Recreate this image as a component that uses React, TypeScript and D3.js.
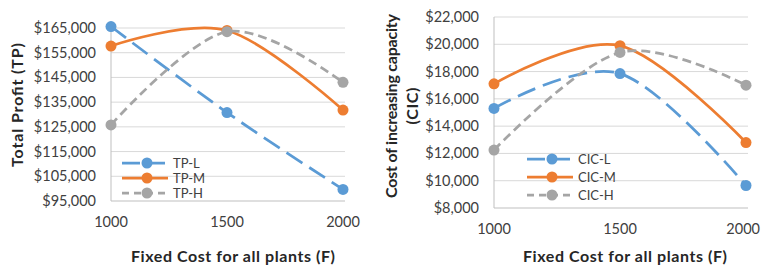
import React from "react";
import * as d3 from "d3";

// x categories
const fixedCost = [1000, 1500, 2000];

// total profit series
const tpL = [165600, 130800, 99700];
const tpM = [157700, 164000, 131800];
const tpH = [125800, 163500, 143000];
const tpTicks = [95000, 105000, 115000, 125000, 135000, 145000, 155000, 165000];

// cost of increasing capacity series
const cicL = [15300, 17850, 9650];
const cicM = [17100, 19900, 12800];
const cicH = [12250, 19400, 17000];
const cicTicks = [8000, 10000, 12000, 14000, 16000, 18000, 20000, 22000];

const BLUE = "#5B9BD5";
const ORANGE = "#ED7D31";
const GRAY = "#A5A5A5";
const FONT = "Lato, 'Open Sans', sans-serif";

type Series = { name: string; values: number[]; color: string; dash: string | null };

type PanelProps = {
  left: number;
  right: number;
  top: number;
  bottom: number;
  domain: [number, number];
  ticks: number[];
  series: Series[];
  titleLines: string[];
  titleX: number[];
  titleY: number;
  titleLen: number[];
  xTitleX: number;
  legend: { x: number; rows: number[] };
};

function Panel(p: PanelProps) {
  const x = d3.scalePoint<number>().domain(fixedCost).range([p.left, p.right]);
  const y = d3.scaleLinear().domain(p.domain).range([p.bottom, p.top]);
  const fmt = d3.format("$,.0f");
  const line = d3
    .line<number>()
    .x((_, i) => x(fixedCost[i]) as number)
    .y((d) => y(d))
    .curve(d3.curveCardinal.tension(0));

  return (
    <g>
      {/* gridlines */}
      {p.ticks.map((t, i) => (
        <line
          key={t}
          x1={p.left}
          x2={p.right + 2}
          y1={y(t)}
          y2={y(t)}
          stroke={i === 0 ? "#BFBFBF" : "#D9D9D9"}
          strokeWidth={1}
        />
      ))}
      <line x1={p.left} x2={p.left} y1={p.top} y2={p.bottom} stroke="#BFBFBF" />
      {p.ticks.map((t) => (
        <text key={t} x={p.left - 15} y={y(t) + 5} textAnchor="end" fontSize={14.5} fill="#404040">
          {fmt(t)}
        </text>
      ))}
      {fixedCost.map((c) => {
        const cx = x(c) as number;
        // keep the last label inside the window
        const nearEdge = cx + 17 > 760;
        return (
          <text
            key={c}
            x={nearEdge ? 760 : cx}
            y={p.bottom + 26}
            textAnchor={nearEdge ? "end" : "middle"}
            fontSize={14.5}
            fill="#404040"
          >
            {c}
          </text>
        );
      })}
      <text
        x={p.xTitleX}
        y={262}
        textAnchor="middle"
        fontSize={16}
        fontWeight="bold"
        fill="#262626"
        textLength={204}
        lengthAdjust="spacing"
      >
        Fixed Cost for all plants (F)
      </text>
      {p.titleLines.map((s, i) => (
        <text
          key={i}
          transform={`translate(${p.titleX[i] + 6},${p.titleY}) rotate(-90)`}
          textAnchor="middle"
          fontSize={16}
          fontWeight="bold"
          fill="#262626"
          textLength={p.titleLen[i]}
          lengthAdjust="spacing"
        >
          {s}
        </text>
      ))}

      {p.series.map((s) => (
        <g key={s.name}>
          <path
            d={line(s.values) || ""}
            fill="none"
            stroke={s.color}
            strokeWidth={2.75}
            strokeDasharray={s.dash || undefined}
          />
          {s.values.map((v, i) => (
            <circle key={i} cx={x(fixedCost[i])} cy={y(v)} r={5.5} fill={s.color} />
          ))}
        </g>
      ))}

      {/* legend */}
      {p.series.map((s, i) => {
        const ly = p.legend.rows[i];
        return (
          <g key={s.name}>
            <line
              x1={p.legend.x}
              x2={p.legend.x + 46}
              y1={ly}
              y2={ly}
              stroke={s.color}
              strokeWidth={2.75}
              strokeDasharray={s.dash ? (s.dash === "19,8" ? "18,7" : "7,5") : undefined}
            />
            <circle cx={p.legend.x + 25} cy={ly} r={5.5} fill={s.color} />
            <text x={p.legend.x + 51} y={ly + 4.5} fontSize={13} fill="#404040">
              {s.name}
            </text>
          </g>
        );
      })}
    </g>
  );
}

export default function App() {
  return (
    <div style={{ position: "fixed", left: 0, top: 0 }}>
      <svg width={761} height={266} style={{ display: "block", fontFamily: FONT }}>
        <rect width={761} height={266} fill="#fff" />
        <Panel
          left={111}
          right={343}
          top={28}
          bottom={201}
          domain={[95000, 165000]}
          ticks={tpTicks}
          series={[
            { name: "TP-L", values: tpL, color: BLUE, dash: "19,8" },
            { name: "TP-M", values: tpM, color: ORANGE, dash: null },
            { name: "TP-H", values: tpH, color: GRAY, dash: "9,5" },
          ]}
          titleLines={["Total Profit (TP)"]}
          titleX={[17]}
          titleY={105}
          titleLen={[124]}
          xTitleX={233}
          legend={{ x: 122, rows: [163, 178, 193] }}
        />
        <Panel
          left={494}
          right={746}
          top={17}
          bottom={208}
          domain={[8000, 22000]}
          ticks={cicTicks}
          series={[
            { name: "CIC-L", values: cicL, color: BLUE, dash: "19,8" },
            { name: "CIC-M", values: cicM, color: ORANGE, dash: null },
            { name: "CIC-H", values: cicH, color: GRAY, dash: "9,5" },
          ]}
          titleLines={["Cost of increasing capacity", "(CIC)"]}
          titleX={[391, 412]}
          titleY={106}
          titleLen={[184, 37]}
          xTitleX={625}
          legend={{ x: 527, rows: [159, 177, 195] }}
        />
      </svg>
    </div>
  );
}
